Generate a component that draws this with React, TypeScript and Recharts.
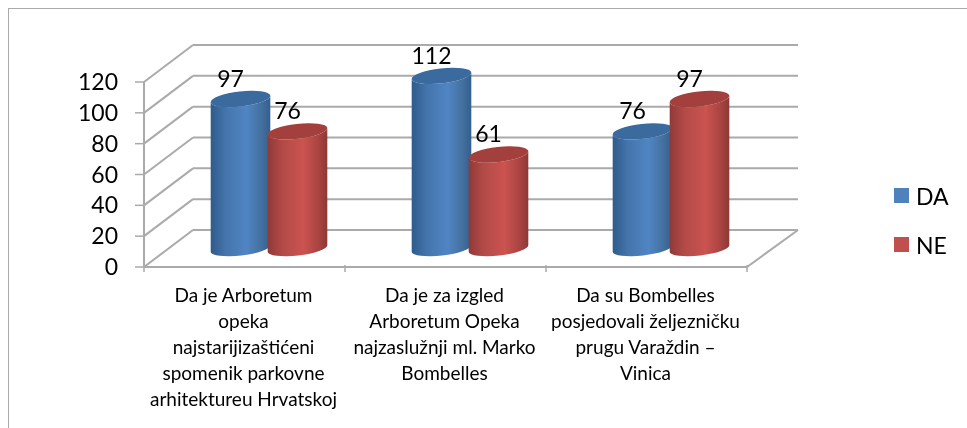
import React from 'react';
import { BarChart, Bar, XAxis, YAxis, CartesianGrid, Legend, LabelList } from 'recharts';

const CATEGORIES = [
  'Da je Arboretum\nopeka\nnajstarijizaštićeni\nspomenik parkovne\narhitektureu Hrvatskoj',
  'Da je za izgled\nArboretum Opeka\nnajzaslužnji ml. Marko\nBombelles',
  'Da su Bombelles\nposjedovali željezničku\nprugu Varaždin –\nVinica',
];
const DA = [97, 112, 76];
const NE = [76, 61, 97];
const Y_TICKS = [0, 20, 40, 60, 80, 100, 120];

const data = CATEGORIES.map((name, i) => ({ name, DA: DA[i], NE: NE[i] }));

const FONT = 'Lato, sans-serif';
const GRID = '#aaaaaa';
const DEPTH_X = 49;
const DEPTH_Y = 37;
const BAND = 201;
const TILT = 6.5;

const WallLine = (props: any) => {
  const { x1, x2, y1 } = props;
  const isFloor = Math.abs(y1 - (props.y + props.height)) < 1;
  const bx = x1 + DEPTH_X;
  const by = y1 - DEPTH_Y;
  return (
    <g key={props.key} stroke={GRID} strokeWidth={2} fill="none">
      <line x1={x1} y1={y1} x2={bx} y2={by} />
      <line x1={bx} y1={by} x2={x2 + DEPTH_X + 2} y2={by} />
      {isFloor && <line x1={x2} y1={y1} x2={x2 + DEPTH_X + 2} y2={by} />}
    </g>
  );
};

const Cylinder = (props: any) => {
  const { x, y, width, height, gradient, cap } = props;
  const rx = width / 2;
  const cx = x + width / 2 + DEPTH_X / 2;
  const top = y - DEPTH_Y / 2;
  const bottom = y + height - DEPTH_Y / 2;
  const t = (TILT * Math.PI) / 180;
  const ex = rx * Math.cos(t);
  const ey = rx * Math.sin(t);
  const body =
    `M${cx - ex},${top + ey} L${cx - ex},${bottom + ey} ` +
    `A${rx},7 ${-TILT} 0 0 ${cx + ex},${bottom - ey} ` +
    `L${cx + ex},${top - ey} ` +
    `A${rx},7.5 ${-TILT} 0 1 ${cx - ex},${top + ey} Z`;
  return (
    <g>
      <path d={body} fill={`url(#${gradient})`} />
      <ellipse cx={cx} cy={top} rx={rx} ry={7.5} fill={cap} transform={`rotate(${-TILT} ${cx} ${top})`} />
    </g>
  );
};

const BarValue = (props: any) => {
  const { x, y, width, value } = props;
  return (
    <text
      x={x + width / 2 + DEPTH_X / 2 - 10}
      y={y - DEPTH_Y / 2 - 21}
      textAnchor="middle"
      dominantBaseline="central"
      fontFamily={FONT}
      fontSize={23}
      fill="#000"
    >
      {value}
    </text>
  );
};

const CategoryTick = (props: any) => {
  const { x, y, payload, index } = props;
  const lines = String(payload.value).split('\n');
  const left = x - BAND / 2;
  return (
    <g>
      <line x1={left} y1={y - 10} x2={left} y2={y - 3} stroke={GRID} strokeWidth={1.5} />
      {index === CATEGORIES.length - 1 && (
        <line x1={x + BAND / 2} y1={y - 10} x2={x + BAND / 2} y2={y - 3} stroke={GRID} strokeWidth={1.5} />
      )}
      <text x={x} textAnchor="middle" fontFamily={FONT} fontSize={19} fill="#000">
        {lines.map((line, i) => (
          <tspan key={i} x={x - 1} y={y + 27 + i * 26}>
            {line}
          </tspan>
        ))}
      </text>
    </g>
  );
};

const LegendBlock = ({ payload }: any) => (
  <div>
    {(payload || []).map((p: any) => (
      <div key={p.value} style={{ display: 'flex', alignItems: 'center', height: 49, fontFamily: FONT, fontSize: 23, color: '#000' }}>
        <span style={{ width: 15, height: 15, background: p.color, marginRight: 7 }} />
        {p.value}
      </div>
    ))}
  </div>
);

export default function App() {
  return (
    <div style={{ position: 'absolute', left: 0, top: 0, width: 967, height: 428, background: '#fff', overflow: 'hidden' }}>
      <div style={{ position: 'absolute', left: 8, top: 8, right: 0, bottom: 0, borderLeft: '1.5px solid #aaa', borderTop: '1.5px solid #aaa' }} />
      <div style={{ position: 'absolute', left: 0, top: 0, filter: 'blur(0.4px)' }}>
        <BarChart
          width={967}
          height={428}
          data={data}
          margin={{ top: 82, right: 220, bottom: 61, left: 84 }}
          barSize={60}
          barGap={-3}
        >
          <defs>
            <linearGradient id="blueBody" x1="0" y1="0" x2="1" y2="0">
              <stop offset="0%" stopColor="#2f5b8c" />
              <stop offset="25%" stopColor="#4474ab" />
              <stop offset="60%" stopColor="#5085c4" />
              <stop offset="85%" stopColor="#44709f" />
              <stop offset="100%" stopColor="#335f90" />
            </linearGradient>
            <linearGradient id="redBody" x1="0" y1="0" x2="1" y2="0">
              <stop offset="0%" stopColor="#8f3a38" />
              <stop offset="25%" stopColor="#b34a47" />
              <stop offset="60%" stopColor="#cb5350" />
              <stop offset="85%" stopColor="#aa4442" />
              <stop offset="100%" stopColor="#8c3836" />
            </linearGradient>
          </defs>
          <CartesianGrid vertical={false} horizontal={WallLine as any} />
          <XAxis
            dataKey="name"
            height={100}
            interval={0}
            axisLine={{ stroke: GRID, strokeWidth: 2 }}
            tickLine={false}
            tick={CategoryTick as any}
          />
          <YAxis
            width={60}
            domain={[0, 120]}
            ticks={Y_TICKS}
            interval={0}
            axisLine={{ stroke: GRID, strokeWidth: 2 }}
            tickLine={{ stroke: GRID, strokeWidth: 1.5 }}
            tickSize={9}
            tickMargin={17}
            tick={{ fontFamily: FONT, fontSize: 23, fill: '#000' }}
          />
          <Legend
            layout="vertical"
            align="center"
            verticalAlign="middle"
            content={LegendBlock as any}
            wrapperStyle={{ left: 894, top: 171, width: 60 }}
          />
          <Bar
            dataKey="DA"
            name="DA"
            fill="#4f81bd"
            isAnimationActive={false}
            shape={(p: any) => <Cylinder {...p} gradient="blueBody" cap="#3b6a9f" />}
          >
            <LabelList dataKey="DA" content={BarValue as any} />
          </Bar>
          <Bar
            dataKey="NE"
            name="NE"
            fill="#c0504d"
            isAnimationActive={false}
            shape={(p: any) => <Cylinder {...p} gradient="redBody" cap="#a33f3c" />}
          >
            <LabelList dataKey="NE" content={BarValue as any} />
          </Bar>
        </BarChart>
      </div>
    </div>
  );
}
